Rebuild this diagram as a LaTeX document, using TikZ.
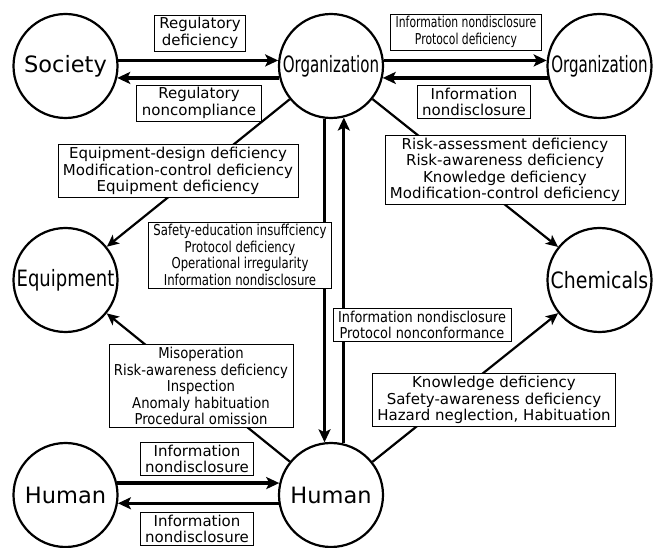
\documentclass[tikz,border=0pt]{standalone}
\usepackage{fontspec}
\setmainfont{DejaVu Sans}
\usetikzlibrary{arrows.meta}

\newcommand{\lblfont}{\fontsize{15pt}{16.5pt}\selectfont}
\newcommand{\entfont}{\fontsize{22.5pt}{24pt}\selectfont}

\tikzstyle{entity}=[circle, draw, line width=2.2pt, minimum size=104pt, inner sep=0pt, font=\entfont]
\tikzstyle{cause}=[draw, fill=white, line width=0.8pt, align=center, inner xsep=5pt, inner ysep=2.5pt, font=\lblfont]
\tikzstyle{flow}=[line width=3.2pt, -{Stealth[length=13pt,width=12pt,inset=3pt]}]
\tikzstyle{link}=[line width=2.2pt, -{Stealth[length=12pt,width=11pt,inset=3pt]}]
\tikzset{
  squeeze/.style={font=\lblfont\addfontfeatures{FakeStretch=#1}},
  squeezebig/.style={font=\entfont\addfontfeatures{FakeStretch=#1}}
}

\begin{document}
\begin{tikzpicture}[x=1pt, y=-1pt]
    \useasboundingbox (0,0) rectangle (654,548);
% Entities
    \node[entity] (society) at (65.5,66) {Society};
    \node[entity, squeezebig=0.67] (org) at (331,66) {Organization};
    \node[entity, squeezebig=0.67] (orgB) at (599.5,66) {Organization};
    \node[entity, squeezebig=0.8] (equip) at (65.5,280) {Equipment};
    \node[entity, squeezebig=0.84] (chem) at (599.5,280) {Chemicals};
    \node[entity] (humanB) at (65.5,495) {Human};
    \node[entity] (human) at (331,495) {Human};
% Two-way flows
    \draw[flow] (society.6) -- (org.174);
    \draw[flow] (org.193) -- (society.-13);
    \draw[flow] (org.6) -- (orgB.174);
    \draw[flow] (orgB.193) -- (org.-13);
    \draw[flow] (org.-97) -- (human.97);
    \draw[flow] (human.76) -- (org.-76);
    \draw[flow] (humanB.13) -- (human.167);
    \draw[flow] (human.189) -- (humanB.-9);
% One-way links
    \draw[link] (org) -- (equip);
    \draw[link] (org) -- (chem);
    \draw[link] (human) -- (equip);
    \draw[link] (human) -- (chem);
% Causes
    \node[cause] (regdef) at (200,33) {Regulatory\\deficiency};
    \node[cause] (regnon) at (199,103) {Regulatory\\noncompliance};
    \node[cause, squeeze=0.72] (infoprot) at (466,32) {Information nondisclosure\\Protocol deficiency};
    \node[cause] (infond) at (474,102) {Information\\nondisclosure};
    \node[cause] (equipcause) at (178,171) {Equipment-design deficiency\\Modification-control deficiency\\Equipment deficiency};
    \node[cause, squeeze=0.78] (orghum) at (240,255) {Safety-education insuffciency\\Protocol deficiency\\Operational irregularity\\Information nondisclosure};
    \node[cause] (chemcause) at (505,170) {Risk-assessment deficiency\\Risk-awareness deficiency\\Knowledge deficiency\\Modification-control deficiency};
    \node[cause, squeeze=0.86] (humorg) at (422,325) {Information nondisclosure\\Protocol nonconformance};
    \node[cause] (humchem) at (494,400) {Knowledge deficiency\\Safety-awareness deficiency\\Hazard neglection, Habituation};
    \node[cause, squeeze=0.88] (humequip) at (201,386) {Misoperation\\Risk-awareness deficiency\\Inspection\\Anomaly habituation\\Procedural omission};
    \node[cause] (infoA) at (197,459) {Information\\nondisclosure};
    \node[cause] (infoB) at (197,529) {Information\\nondisclosure};
\end{tikzpicture}
\end{document}
